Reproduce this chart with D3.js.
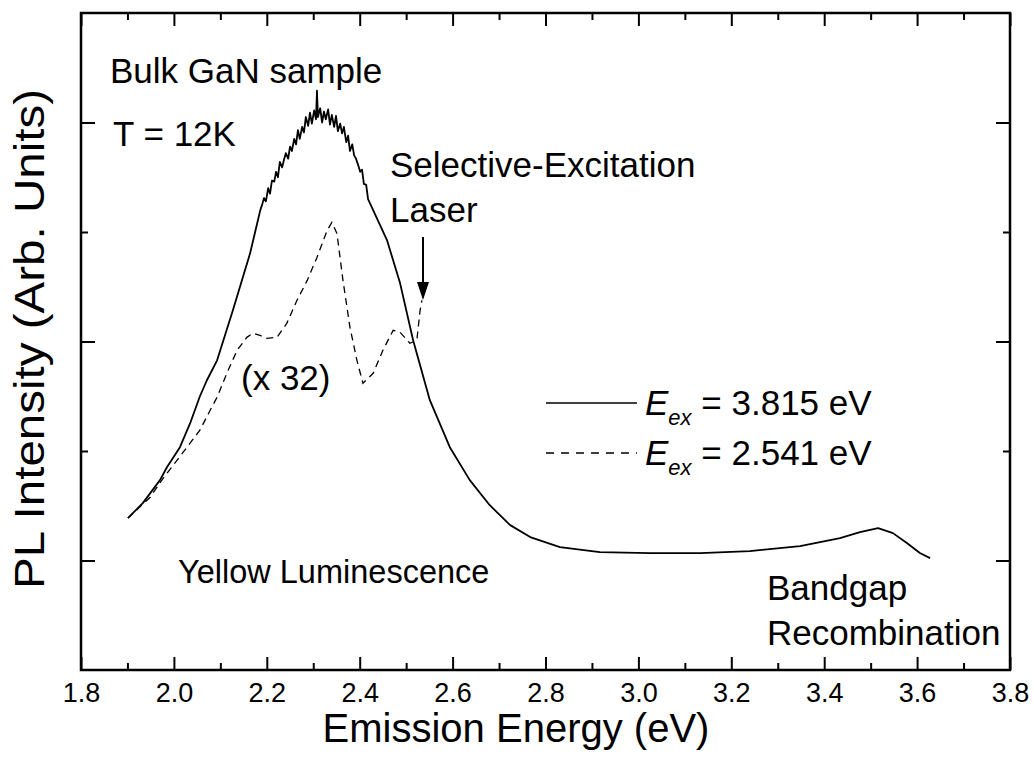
<!DOCTYPE html>
<html><head><meta charset="utf-8">
<script src="https://cdn.jsdelivr.net/npm/d3@7"></script>
<style>
body{margin:0;background:#fff;}
text{font-family:"Liberation Sans",Arial,sans-serif;fill:#000;}
</style></head>
<body><svg id="c" width="1034" height="764"></svg>
<script>
// Solid curve, excitation 3.815 eV: [energy eV, intensity]
const solidLeft = [[1.901,1.387],[1.933,1.524],[1.970,1.734],[1.985,1.852],[2.013,2.035],[2.035,2.254],[2.056,2.500],[2.071,2.646],[2.093,2.828],[2.127,3.285],[2.164,3.805],[2.186,4.200]];
const solidPeak = [[2.190,4.25],[2.194,4.31],[2.198,4.28],[2.203,4.40],[2.207,4.35],[2.211,4.47],[2.216,4.46],[2.220,4.55],[2.224,4.50],[2.228,4.64],[2.233,4.59],[2.237,4.66],[2.241,4.72],[2.246,4.67],[2.250,4.78],[2.254,4.74],[2.259,4.85],[2.263,4.80],[2.267,4.93],[2.271,4.85],[2.276,4.96],[2.280,4.91],[2.284,5.05],[2.289,4.97],[2.293,5.09],[2.297,4.99],[2.302,5.11],[2.306,5.03],[2.308,5.29],[2.310,5.05],[2.315,5.13],[2.319,5.00],[2.323,5.10],[2.327,5.03],[2.332,5.12],[2.336,4.98],[2.340,5.07],[2.345,4.96],[2.349,5.06],[2.353,4.92],[2.358,4.99],[2.362,4.90],[2.366,4.96],[2.371,4.82],[2.375,4.88],[2.379,4.74],[2.384,4.80],[2.388,4.70],[2.392,4.67],[2.396,4.62],[2.401,4.55],[2.405,4.57],[2.409,4.44],[2.414,4.43],[2.418,4.30]];
const solidRight = [[2.459,3.923],[2.487,3.531],[2.515,3.011],[2.551,2.464],[2.594,2.035],[2.637,1.734],[2.680,1.505],[2.724,1.323],[2.767,1.214],[2.831,1.122],[2.917,1.077],[3.025,1.068],[3.133,1.068],[3.240,1.086],[3.348,1.131],[3.434,1.204],[3.477,1.259],[3.516,1.296],[3.548,1.250],[3.578,1.159],[3.606,1.068],[3.628,1.022]];
// Dashed curve, excitation 2.541 eV (x 32)
const dashed = [[1.901,1.387],[1.949,1.578],[1.977,1.752],[2.020,1.989],[2.056,2.190],[2.078,2.372],[2.093,2.491],[2.114,2.710],[2.136,2.920],[2.157,3.038],[2.170,3.075],[2.185,3.057],[2.200,3.029],[2.222,3.038],[2.243,3.166],[2.265,3.376],[2.287,3.558],[2.308,3.768],[2.330,4.015],[2.340,4.088],[2.351,3.987],[2.364,3.558],[2.379,3.130],[2.394,2.828],[2.407,2.619],[2.429,2.710],[2.450,2.920],[2.472,3.102],[2.487,3.084],[2.508,2.984],[2.523,3.011],[2.530,3.285],[2.534,3.376]];
const xMajor = [1.8,2.0,2.2,2.4,2.6,2.8,3.0,3.2,3.4,3.6,3.8];
const xMinor = [1.9,2.1,2.3,2.5,2.7,2.9,3.1,3.3,3.5,3.7];
const yMajor = [1,3,5];
const yMinor = [2,4];
const legendLabels = ["= 3.815 eV","= 2.541 eV"];

const svg = d3.select("#c");
const L=81,R=1010,T=13,B=670;
const x = d3.scaleLinear().domain([1.8,3.8]).range([L,R]);
const y = d3.scaleLinear().domain([0,6]).range([B,T]);

const solid = solidLeft.concat(solidPeak, solidRight);
const line = d3.line().x(d=>x(d[0])).y(d=>y(d[1]));

svg.append("path").datum(dashed).attr("d",line).attr("fill","none").attr("stroke","#000")
  .attr("stroke-width",1.3).attr("stroke-dasharray","7,5");
svg.append("path").datum(solid).attr("d",line).attr("fill","none").attr("stroke","#000")
  .attr("stroke-width",1.8).attr("stroke-linejoin","round");

function styleAxis(g){g.select(".domain").remove();g.selectAll("line").attr("stroke","#000").attr("stroke-width",2);}
const fmt = d3.format(".1f");
svg.append("g").attr("transform",`translate(0,${B})`)
  .call(d3.axisBottom(x).tickValues(xMajor).tickSize(-13).tickPadding(13).tickFormat(fmt)).call(styleAxis)
  .selectAll("text").attr("font-size",27).attr("font-family","Liberation Sans, Arial, sans-serif");
svg.append("g").attr("transform",`translate(0,${B})`)
  .call(d3.axisBottom(x).tickValues(xMinor).tickSize(-7).tickFormat("")).call(styleAxis);
svg.append("g").attr("transform",`translate(0,${T})`)
  .call(d3.axisTop(x).tickValues(xMajor).tickSize(-13).tickFormat("")).call(styleAxis);
svg.append("g").attr("transform",`translate(0,${T})`)
  .call(d3.axisTop(x).tickValues(xMinor).tickSize(-7).tickFormat("")).call(styleAxis);
svg.append("g").attr("transform",`translate(${L},0)`)
  .call(d3.axisLeft(y).tickValues(yMajor).tickSize(-14).tickFormat("")).call(styleAxis);
svg.append("g").attr("transform",`translate(${L},0)`)
  .call(d3.axisLeft(y).tickValues(yMinor).tickSize(-7).tickFormat("")).call(styleAxis);
svg.append("g").attr("transform",`translate(${R},0)`)
  .call(d3.axisRight(y).tickValues(yMajor).tickSize(-14).tickFormat("")).call(styleAxis);
svg.append("g").attr("transform",`translate(${R},0)`)
  .call(d3.axisRight(y).tickValues(yMinor).tickSize(-7).tickFormat("")).call(styleAxis);

svg.append("rect").attr("x",L).attr("y",T).attr("width",R-L).attr("height",B-T)
  .attr("fill","none").attr("stroke","#000").attr("stroke-width",2.5);

// axis titles
svg.append("text").attr("x",516).attr("y",742).attr("text-anchor","middle")
  .attr("font-size",40).text("Emission Energy (eV)");
svg.append("text").attr("transform",`translate(44,339) rotate(-90)`).attr("text-anchor","middle")
  .attr("font-size",42).attr("textLength",500).attr("lengthAdjust","spacingAndGlyphs")
  .text("PL Intensity (Arb. Units)");

// annotations
const ann = [["Bulk GaN sample",110,83,35],["T = 12K",113,146,35],["Selective-Excitation",390,177,35],["Laser",390,222,35],["(x 32)",241,390,35],["Yellow Luminescence",178,583,32.5],["Bandgap",767,600,35],["Recombination",767,645,35]];
svg.selectAll("text.ann").data(ann).enter().append("text").attr("class","ann")
  .attr("x",d=>d[1]).attr("y",d=>d[2]).attr("font-size",d=>d[3]).text(d=>d[0]);

// arrow for laser
svg.append("line").attr("x1",423).attr("x2",423).attr("y1",237).attr("y2",285).attr("stroke","#000").attr("stroke-width",2);
svg.append("path").attr("d","M417,282 L429,282 L423,300 Z").attr("fill","#000");

// legend
const legY=[403,453];
legendLabels.forEach((lab,i)=>{
  svg.append("line").attr("x1",546).attr("x2",637).attr("y1",legY[i]).attr("y2",legY[i])
    .attr("stroke","#000").attr("stroke-width",1.3).attr("stroke-dasharray",i?"8,7":null);
  const t=svg.append("text").attr("x",645).attr("y",legY[i]+12).attr("font-size",35);
  t.append("tspan").attr("font-style","italic").text("E");
  t.append("tspan").attr("font-style","italic").attr("font-size",22).attr("dy",10).text("ex");
  t.append("tspan").attr("dy",-10).text(" "+lab);
});
</script></body></html>
